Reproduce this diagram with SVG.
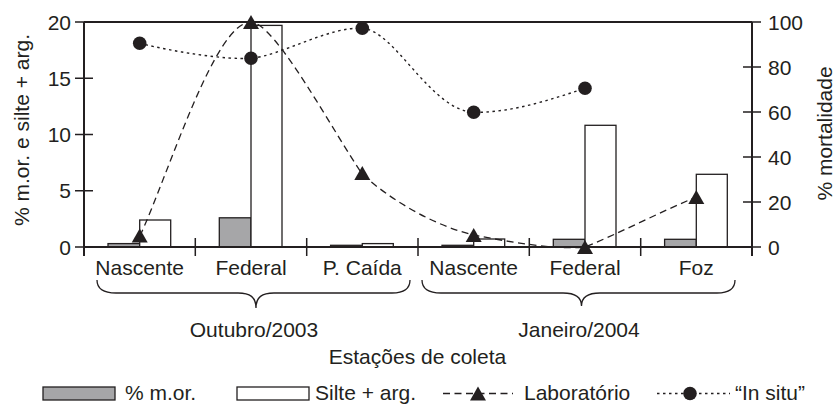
<svg xmlns="http://www.w3.org/2000/svg" width="835" height="407" viewBox="0 0 835 407">
<style>
text{font-family:"Liberation Sans",Arial,Helvetica,sans-serif;font-size:21px;fill:#231f20}
.tl{text-anchor:end}
.mid{text-anchor:middle}
.ax{stroke:#231f20;stroke-width:2;fill:none}
.tk{stroke:#231f20;stroke-width:1.5;fill:none}
.g{fill:#a6a6a8;stroke:#231f20;stroke-width:1.3}
.w{fill:#fff;stroke:#231f20;stroke-width:1.3}
.lab{fill:none;stroke:#231f20;stroke-width:1.3;stroke-dasharray:7,4.5}
.ins{fill:none;stroke:#231f20;stroke-width:1.4;stroke-dasharray:2.5,3.5}
.br{fill:none;stroke:#231f20;stroke-width:1.3}
</style>
<defs>
<path id="tri" d="M0,-7 L8,7 L-8,7 Z" fill="#231f20"/>
<circle id="dot" r="6.8" fill="#231f20"/>
</defs>
<rect width="835" height="407" fill="#fff"/>
<g id="bars">
<rect class="g" x="108" y="243.6" width="31.7" height="3.4"/>
<rect class="w" x="139.7" y="220" width="31" height="27"/>
<rect class="g" x="219.3" y="217.8" width="31.7" height="29.2"/>
<rect class="w" x="251" y="25.4" width="31" height="221.6"/>
<rect class="g" x="330.6" y="245.3" width="31.7" height="1.7"/>
<rect class="w" x="362.3" y="243.6" width="31" height="3.4"/>
<rect class="g" x="442" y="245.3" width="31.7" height="1.7"/>
<rect class="w" x="473.7" y="239" width="31" height="8"/>
<rect class="g" x="553.3" y="239.3" width="31.7" height="7.7"/>
<rect class="w" x="585" y="125.3" width="31" height="121.7"/>
<rect class="g" x="664.6" y="239.3" width="31.7" height="7.7"/>
<rect class="w" x="696.3" y="174.3" width="31" height="72.7"/>
</g>
<g id="axes">
<path class="ax" d="M84,22 H752 M84,22 V256 M752,22 V256 M84,247 H752"/>
<path class="tk" d="M75,22 H93 M75,78.25 H93 M75,134.5 H93 M75,190.75 H93 M75,247 H93"/>
<path class="tk" d="M743,22 H761 M743,67 H761 M743,112 H761 M743,157 H761 M743,202 H761 M743,247 H761"/>
<path class="tk" d="M195.3,238 V256 M306.7,238 V256 M418,238 V256 M529.3,238 V256 M640.7,238 V256"/>
<text class="tl" x="71" y="29.5">20</text>
<text class="tl" x="71" y="85.75">15</text>
<text class="tl" x="71" y="142">10</text>
<text class="tl" x="71" y="198.25">5</text>
<text class="tl" x="71" y="254.5">0</text>
<text x="768" y="29.5">100</text>
<text x="768" y="74.5">80</text>
<text x="768" y="119.5">60</text>
<text x="768" y="164.5">40</text>
<text x="768" y="209.5">20</text>
<text x="768" y="254.5">0</text>
<text class="mid" transform="translate(29,130) rotate(-90)">% m.or. e silte + arg.</text>
<text class="mid" transform="translate(832,133.5) rotate(-90)">% mortalidade</text>
</g>
<g id="connectors">
<path class="lab" d="M140,236 C170,170 215,22 251,22 C275,22 335,135 362.3,174 C390,200 435,226 473.7,235 C510,242 555,250 585,247 C620,233 660,212 696.3,197"/>
<path class="ins" d="M139.7,43.3 C175,52 225,60 251,58.3 C280,56 330,26 362.3,28.3 C395,30 430,110 473.7,112.3 C510,113 550,100 585,88.3"/>
</g>
<g id="markers">
<use href="#tri" x="139.7" y="235.5"/>
<use href="#tri" x="251" y="22"/>
<use href="#tri" x="362.3" y="173"/>
<use href="#tri" x="473.7" y="235"/>
<use href="#tri" x="585" y="247"/>
<use href="#tri" x="696.3" y="197"/>
<use href="#dot" x="139.7" y="43.3"/>
<use href="#dot" x="251" y="58.3"/>
<use href="#dot" x="362.3" y="28.3"/>
<use href="#dot" x="473.7" y="112.3"/>
<use href="#dot" x="585" y="88.3"/>
</g>
<g id="categories">
<text class="mid" x="139.7" y="275">Nascente</text>
<text class="mid" x="251" y="275">Federal</text>
<text class="mid" x="362.3" y="275">P. Caída</text>
<text class="mid" x="473.7" y="275">Nascente</text>
<text class="mid" x="585" y="275">Federal</text>
<text class="mid" x="696.3" y="275">Foz</text>
</g>
<g id="braces">
<path class="br" d="M97,280 C97,289 103,293 116,293 L238,293 C250,293 256,297 256,308 C256,297 262,293 274,293 L392,293 C404,293 410,289 410,280"/>
<path class="br" d="M422,280 C422,289 428,293 441,293 L563,293 C575,293 581.5,297 581.5,306 C581.5,297 588,293 600,293 L717,293 C729,293 735,289 735,280"/>
<text class="mid" x="254" y="337">Outubro/2003</text>
<text class="mid" x="579" y="337">Janeiro/2004</text>
<text class="mid" x="417.5" y="364">Estações de coleta</text>
</g>
<g id="legend">
<rect class="g" x="43" y="387" width="72" height="13"/>
<text x="125" y="400">% m.or.</text>
<rect class="w" x="237" y="387" width="72" height="13"/>
<text x="315" y="400">Silte + arg.</text>
<path class="lab" d="M443,393.5 H513" stroke-dasharray="6,4"/>
<use href="#tri" x="478" y="393.5"/>
<text x="524" y="400">Laboratório</text>
<path class="ins" d="M657,393.5 H730"/>
<use href="#dot" x="690" y="393.5"/>
<text x="735" y="400">“In situ”</text>
</g>
</svg>
